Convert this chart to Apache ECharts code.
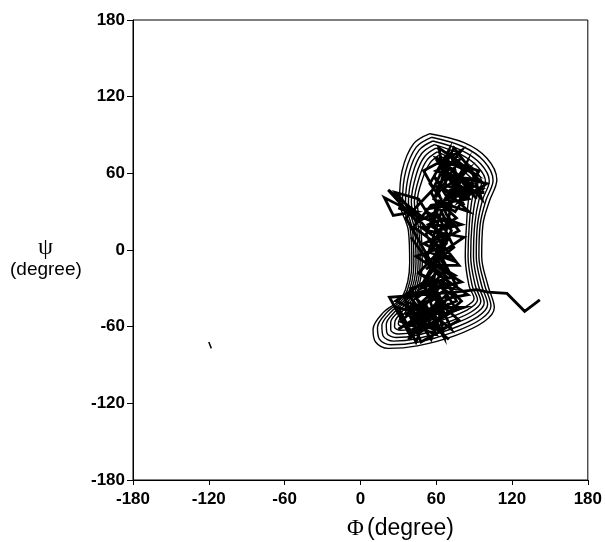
<!DOCTYPE html>
<html>
<head>
<meta charset="utf-8">
<script src="https://cdn.jsdelivr.net/npm/echarts@6/dist/echarts.min.js"></script>
<style>
  html, body { margin: 0; padding: 0; background: #fff; }
  #chart { width: 605px; height: 542px; }
</style>
</head>
<body>
<div id="chart"></div>
<script>
// tick labels (degree)
const phiTicks = [-180, -120, -60, 0, 60, 120, 180];
const psiTicks = [-180, -120, -60, 0, 60, 120, 180];

// density contours, outer to inner, [phi, psi]
const contour1 = [[55,91],[82,84],[100,72],[108,55],[102,38],[97,20],[96,-5],[101,-28],[106,-45],[98,-56],[75,-67],[45,-75],[22,-77],[12,-72],[10,-62],[18,-49],[33,-37],[39,-10],[38,15],[31,38],[33,62],[42,83],[55,91]];
const contour2 = [[56.2,88.2],[81,81],[97.7,69.7],[105,54.5],[99.3,38.7],[94.8,20],[93.8,-5],[98.5,-28],[103.3,-43.8],[95.3,-54.2],[73.2,-64.5],[45.2,-72.2],[24,-74.2],[15,-69.7],[13.5,-60.7],[21,-48.8],[34.8,-36.8],[40.7,-10],[39.7,15],[33.3,38],[35.8,61.3],[44.2,80.5],[56.2,88.2]];
const contour3 = [[57.3,85.3],[80,78],[95.3,67.3],[102,54],[96.7,39.3],[92.7,20],[91.7,-5],[96,-28],[100.7,-42.7],[92.7,-52.3],[71.3,-62],[45.3,-69.3],[26,-71.3],[18,-67.3],[17,-59.3],[24,-48.7],[36.7,-36.7],[42.3,-10],[41.3,15],[35.7,38],[38.7,60.7],[46.3,78],[57.3,85.3]];
const contour4 = [[58.5,82.5],[79,75],[93,65],[99,53.5],[94,40],[90.5,20],[89.5,-5],[93.5,-28],[98,-41.5],[90,-50.5],[69.5,-59.5],[45.5,-66.5],[28,-68.5],[21,-65],[20.5,-58],[27,-48.5],[38.5,-36.5],[44,-10],[43,15],[38,38],[41.5,60],[48.5,75.5],[58.5,82.5]];
const contour5 = [[59.7,79.7],[78,72],[90.7,62.7],[96,53],[91.3,40.7],[88.3,20],[87.3,-5],[91,-28],[95.3,-40.3],[87.3,-48.7],[67.7,-57],[45.7,-63.7],[30,-65.7],[24,-62.7],[24,-56.7],[30,-48.3],[40.3,-36.3],[45.7,-10],[44.7,15],[40.3,38],[44.3,59.3],[50.7,73],[59.7,79.7]];
const contour6 = [[60.8,76.8],[77,69],[88.3,60.3],[93,52.5],[88.7,41.3],[86.2,20],[85.2,-5],[88.5,-28],[92.7,-39.2],[84.7,-46.8],[65.8,-54.5],[45.8,-60.8],[32,-62.8],[27,-60.3],[27.5,-55.3],[33,-48.2],[42.2,-36.2],[47.3,-10],[46.3,15],[42.7,38],[47.2,58.7],[52.8,70.5],[60.8,76.8]];
const contour7 = [[62,74],[76,66],[86,58],[90,52],[86,42],[84,20],[83,-5],[86,-28],[90,-38],[82,-45],[64,-52],[46,-58],[34,-60],[30,-58],[31,-54],[36,-48],[44,-36],[49,-10],[48,15],[45,38],[50,58],[55,68],[62,74]];

// trajectory (phi, psi)
const trajectory = [[142,-39],[130,-48],[116,-34],[101,-33],[92,-31],[75,-33],[50,-35],[23,-37],[40,-68],[46,-50],[30,-45],[44,-72],[52,-52],[38,-60],[60,-42],[65,-60],[58,-30],[35,-38],[48,-64],[70,-50],[55,-22],[28,-40],[62,-55],[80,-40],[66,-25],[50,-45],[72,-62],[60,-35],[42,-48],[56,-70],[68,-38],[85,-35],[60,-18],[48,-30],[75,-20],[54,-8],[70,-5],[50,5],[66,12],[58,-12],[78,-12],[62,8],[48,18],[72,20],[56,28],[66,-2],[52,-15],[74,2],[60,30],[45,22],[22,47],[50,25],[19,41],[26,27],[44,30],[30,33],[58,22],[64,40],[55,52],[70,78],[62,45],[78,70],[60,62],[88,52],[70,40],[96,48],[72,56],[82,35],[65,70],[90,60],[62,80],[68,50],[98,45],[76,45],[84,68],[64,35],[80,55],[92,40],[70,65],[58,40],[75,30],[86,46],[66,58],[94,55],[72,74],[80,42],[60,50],[68,28],[78,15],[58,5],[72,-8],[55,-2],[64,18],[76,25],[62,38],[52,12],[68,-15],[56,-28],[72,-30],[50,-20],[64,-45],[46,-58],[58,-62],[36,-50],[50,-40],[66,-68],[62,-48],[40,-42],[54,-55],[70,-42],[58,-50],[44,-38],[62,-25],[75,-45],[52,-60],[48,-44],[66,-32],[56,-40],[60,-10],[70,10],[54,20],[66,25],[80,20],[60,15],[52,32],[70,35],[86,30],[66,48],[84,62],[74,50],[62,68],[76,60],[90,50],[70,44],[58,58],[72,36],[64,-5],[76,-28],[54,-48],[44,-62],[38,-70],[50,-58],[62,-38],[48,-28],[58,-15],[40,10],[62,-20],[36,25],[58,48],[50,62],[80,78],[66,60],[100,52],[78,38],[94,62],[60,72],[86,40],[56,35],[42,18],[64,2],[44,-5],[70,-22],[40,-30],[60,-66],[32,-56],[55,-35],[78,-55],[48,-72],[36,-44],[66,-50],[82,-45],[58,-45],[30,-62],[52,-48],[74,-36],[46,-18],[68,5],[46,40],[28,45],[54,15],[82,10],[60,-5],[76,-40],[42,-55],[62,-60],[50,-25],[72,15],[56,45],[74,80],[88,62],[96,40],[68,68],[84,50],[64,30],[52,-8],[80,-25],[60,-30],[38,-35],[56,-58],[70,-70]];

// small stray stroke
const stray = [[-120,-72],[-118,-77]];

const contours = [contour1, contour2, contour3, contour4, contour5, contour6, contour7];

const chart = echarts.init(document.getElementById("chart"));

const labelStyle = {
  color: "#000",
  fontFamily: "Liberation Sans",
  fontWeight: "bold",
  fontSize: 17,
};

const series = contours.map((c) => ({
  type: "line",
  data: c,
  smooth: 0.35,
  symbol: "none",
  silent: true,
  lineStyle: { color: "#000", width: 1.4 },
}));

series.push({
  type: "line",
  data: trajectory,
  symbol: "none",
  silent: true,
  lineStyle: { color: "#000", width: 2.8, join: "miter" },
});

series.push({
  type: "line",
  data: stray,
  symbol: "none",
  silent: true,
  lineStyle: { color: "#000", width: 1.5 },
});

chart.setOption({
  animation: false,
  backgroundColor: "#fff",
  grid: {
    left: 133,
    right: 14,
    top: 20,
    bottom: 62,
    show: true,
    borderColor: "#000",
    borderWidth: 1,
  },
  xAxis: {
    type: "value",
    min: phiTicks[0],
    max: phiTicks[phiTicks.length - 1],
    interval: 60,
    axisLine: { show: true, onZero: false, lineStyle: { color: "#000", width: 1 } },
    axisTick: { show: true, length: 5, lineStyle: { color: "#000" } },
    splitLine: { show: false },
    axisLabel: Object.assign({ margin: 11, showMinLabel: true, showMaxLabel: true }, labelStyle),
  },
  yAxis: {
    type: "value",
    min: psiTicks[0],
    max: psiTicks[psiTicks.length - 1],
    interval: 60,
    axisLine: { show: true, onZero: false, lineStyle: { color: "#000", width: 1 } },
    axisTick: { show: true, length: 6, lineStyle: { color: "#000" } },
    splitLine: { show: false },
    axisLabel: Object.assign({ margin: 8, showMinLabel: true, showMaxLabel: true }, labelStyle),
  },
  graphic: [
    {
      type: "text",
      left: 38,
      top: 236,
      style: { text: "ψ", fill: "#000", font: "24px 'Liberation Serif'" },
    },
    {
      type: "text",
      left: 10,
      top: 260,
      style: { text: "(degree)", fill: "#000", font: "19px 'Liberation Sans'" },
    },
    {
      type: "text",
      left: 347,
      top: 517,
      style: { text: "Φ", fill: "#000", font: "23px 'Liberation Serif'" },
    },
    {
      type: "text",
      left: 367,
      top: 517,
      style: { text: "(degree)", fill: "#000", font: "23px 'Liberation Sans'" },
    },
  ],
  series: series,
});
</script>
</body>
</html>
